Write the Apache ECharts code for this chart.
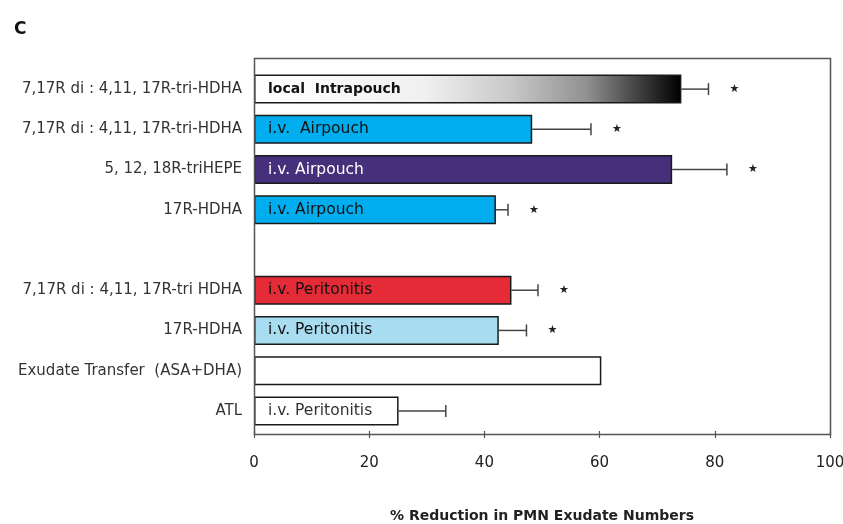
<!DOCTYPE html>
<html><head><meta charset="utf-8">
<script src="https://cdn.jsdelivr.net/npm/echarts@6/dist/echarts.min.js"></script>
<style>html,body{margin:0;padding:0;background:#fff;overflow:hidden}#c{width:843px;height:524px}</style>
</head><body><div id="c"></div>
<script>
const categories = ['7,17R di : 4,11, 17R-tri-HDHA', '7,17R di : 4,11, 17R-tri-HDHA', '5, 12, 18R-triHEPE', '17R-HDHA', '', '7,17R di : 4,11, 17R-tri HDHA', '17R-HDHA', 'Exudate Transfer  (ASA+DHA)', 'ATL'];
const values = [74.2, 48.3, 72.6, 42.0, null, 44.7, 42.5, 60.3, 25.1];
const errorUpper = [78.9, 58.5, 82.1, 44.1, null, 49.3, 47.3, null, 33.3];
const significant = [true, true, true, true, false, true, true, false, false];
const barLabels = ['local  Intrapouch', 'i.v.  Airpouch', 'i.v. Airpouch', 'i.v. Airpouch', '', 'i.v. Peritonitis', 'i.v. Peritonitis', '', 'i.v. Peritonitis'];
const xTicks = [0, 20, 40, 60, 80, 100];

// styles
const gradient = new echarts.graphic.LinearGradient(0, 0, 1, 0, [
  {offset: 0, color: '#ffffff'}, {offset: 0.4, color: '#f0f0f0'},
  {offset: 0.6, color: '#c8c8c8'}, {offset: 0.78, color: '#909090'},
  {offset: 0.9, color: '#404040'}, {offset: 1, color: '#000000'}
]);
const barColors = [gradient, '#00AEEF', '#46307C', '#00AEEF', '#fff', '#E52A38', '#A8DCF1', '#ffffff', '#ffffff'];
const labelColors = ['#111', '#111', '#fff', '#111', '#111', '#111', '#111', '#111', '#333'];
const labelWeights = ['bold', 'normal', 'normal', 'normal', 'normal', 'normal', 'normal', 'normal', 'normal'];
const labelSizes = [14, 15.5, 15.5, 15.5, 15.5, 15.5, 15.5, 15.5, 15.5];

const chart = echarts.init(document.getElementById('c'));
const barData = values.map((v, i) => ({
  value: v,
  itemStyle: {color: barColors[i], borderColor: '#1a1a1a', borderWidth: 1.5},
  label: {color: labelColors[i], fontWeight: labelWeights[i], fontSize: labelSizes[i]}
}));
const errData = [];
values.forEach((v, i) => { if (v != null && errorUpper[i] != null) errData.push([i, v, errorUpper[i], significant[i] ? 1 : 0]); });

chart.setOption({
  animation: false,
  backgroundColor: '#fff',
  title: {text: 'C', left: 9, top: 16, textStyle: {fontSize: 17, fontWeight: 'bold', color: '#111', fontFamily: 'DejaVu Sans'}},
  grid: {left: 254, top: 69, width: 576, height: 362, outerBoundsMode: 'none', containLabel: false},
  xAxis: {
    type: 'value', min: xTicks[0], max: xTicks[xTicks.length - 1], interval: 20,
    splitLine: {show: false},
    axisLine: {show: false},
    axisTick: {show: true, length: 7, lineStyle: {color: '#555', width: 1.2}},
    axisLabel: {margin: 25, fontSize: 15, color: '#222', fontFamily: 'DejaVu Sans'},
    name: '% Reduction in PMN Exudate Numbers', nameLocation: 'middle', nameGap: 78,
    nameTextStyle: {fontSize: 14, fontWeight: 'bold', color: '#222', fontFamily: 'DejaVu Sans'}
  },
  yAxis: {
    type: 'category', data: categories, inverse: true,
    axisLine: {show: false}, axisTick: {show: false},
    axisLabel: {margin: 12, fontSize: 15, color: '#333', fontFamily: 'DejaVu Sans'}
  },
  graphic: [{
    type: 'rect', left: 252, top: 56, shape: {width: 576, height: 376},
    style: {fill: 'none', stroke: '#555', lineWidth: 1.5}, z: 10
  }],
  series: [{
    type: 'bar', data: barData, barWidth: 29,
    label: {show: true, position: 'insideLeft', distance: 14, fontFamily: 'DejaVu Sans',
      formatter: p => barLabels[p.dataIndex]}
  }, {
    type: 'custom', data: errData, z: 5,
    encode: {x: [1, 2], y: 0},
    renderItem: (params, api) => {
      const idx = api.value(0);
      const p0 = api.coord([api.value(1), idx]);
      const p1 = api.coord([api.value(2), idx]);
      const children = [
        {type: 'line', shape: {x1: p0[0], y1: p0[1], x2: p1[0], y2: p1[1]}, style: {stroke: '#444', lineWidth: 1.5}},
        {type: 'line', shape: {x1: p1[0], y1: p1[1] - 6, x2: p1[0], y2: p1[1] + 6}, style: {stroke: '#444', lineWidth: 1.5}}
      ];
      if (api.value(3)) {
        children.push({type: 'text', x: p1[0] + 26, y: p1[1], style: {text: '★', fontSize: 11, fill: '#222', align: 'center', verticalAlign: 'middle', fontFamily: 'DejaVu Sans'}});
      }
      return {type: 'group', children};
    }
  }]
});
</script></body></html>
